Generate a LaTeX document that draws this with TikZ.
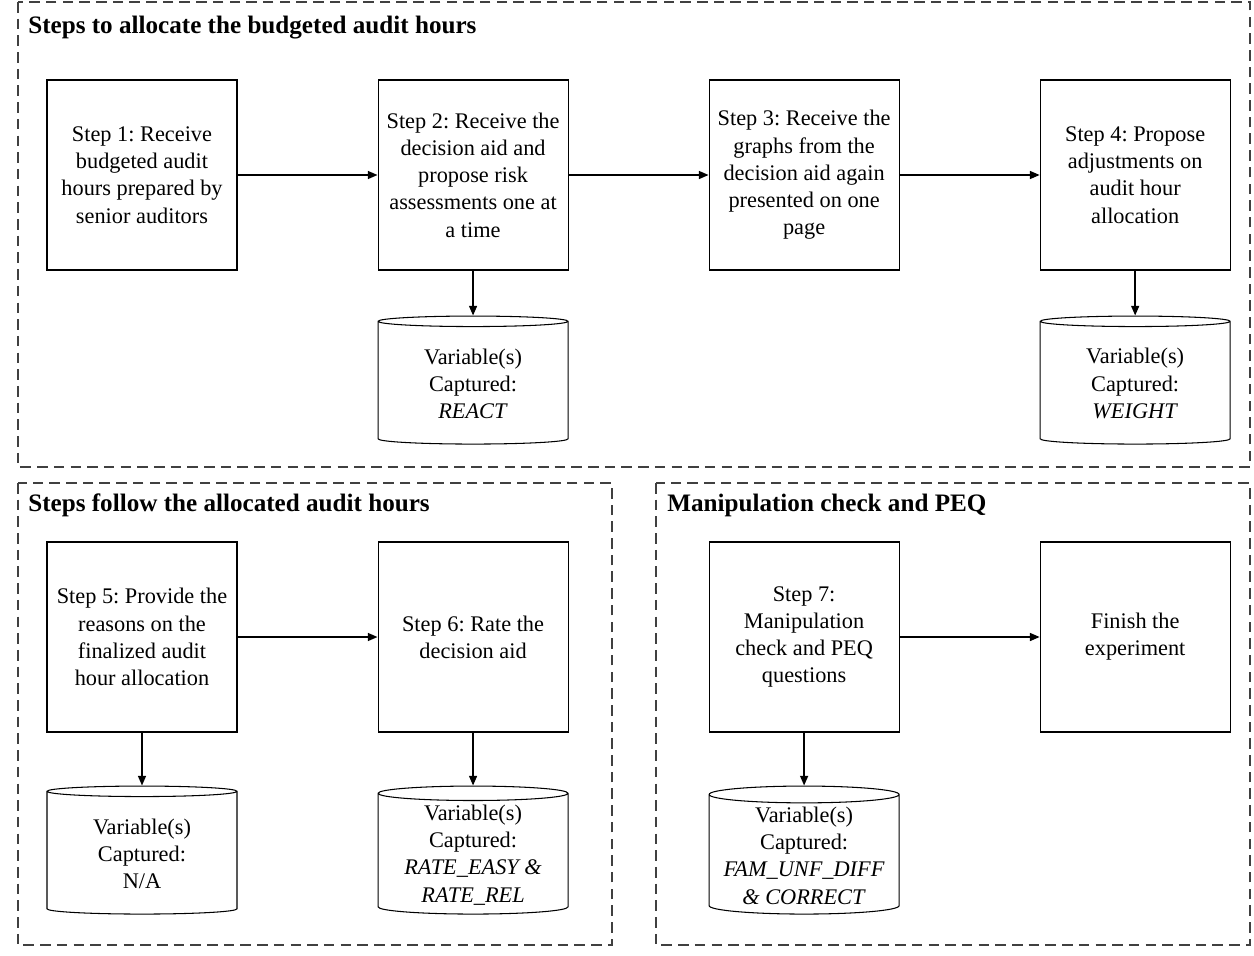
\documentclass[tikz,border=0pt]{standalone}
\usepackage{fontspec}
\setmainfont{Liberation Serif}
\frenchspacing
\usetikzlibrary{arrows.meta,positioning,shapes.geometric}
\tikzset{
  >={Triangle[length=5.5pt,width=4.5pt]},
  line join=round,
  stepbox/.style={draw, line width=0.6pt, minimum width=3.8cm, minimum height=3.8cm, align=center, inner sep=2pt, font=\fontsize{12.7}{15.5}\selectfont},
  store/.style={draw, line width=0.6pt, cylinder, shape border rotate=90, aspect=0.1, minimum width=3.8cm, minimum height=2.56cm, align=center, inner sep=2pt, font=\fontsize{12.7}{15.5}\selectfont},
  panel/.style={draw=black!75, dash pattern=on 6pt off 3.5pt, line width=0.6pt},
  paneltitle/.style={anchor=west, inner sep=0pt, font=\bfseries\fontsize{14.3}{16}\selectfont},
  arrow/.style={->, line width=0.9pt}
}
\begin{document}
\begin{tikzpicture}
  \useasboundingbox (0,0) rectangle (25.08,-19.1);

  % panels
  \draw[panel] (0.36,-0.04) rectangle (25.0,-9.34);
  \draw[panel] (0.36,-9.66) rectangle (12.24,-18.9);
  \draw[panel] (13.12,-9.66) rectangle (25.0,-18.9);
  \node[paneltitle] (alloc) at (0.56,-0.56) {Steps to allocate the budgeted audit hours};
  \node[paneltitle] (follow) at (0.56,-10.1) {Steps follow the allocated audit hours};
  \node[paneltitle] (manip) at (13.34,-10.1) {Manipulation check and PEQ};

  % first row
  \node[stepbox] (s1) at (2.84,-3.5) {Step 1: Receive\\budgeted audit\\hours prepared by\\senior auditors};
  \node[stepbox, right=2.8cm of s1] (s2) {Step 2: Receive the\\decision aid and\\propose risk\\assessments one at\\a time};
  \node[stepbox, right=2.8cm of s2] (s3) {Step 3: Receive the\\graphs from the\\decision aid again\\presented on one\\page};
  \node[stepbox, right=2.8cm of s3] (s4) {Step 4: Propose\\adjustments on\\audit hour\\allocation};
  \node[store, below=0.9cm of s2] (v2) {Variable(s)\\Captured:\\\textit{REACT}};
  \node[store, below=0.9cm of s4] (v4) {Variable(s)\\Captured:\\\textit{WEIGHT}};

  \draw[arrow] (s1) -- (s2);
  \draw[arrow] (s2) -- (s3);
  \draw[arrow] (s3) -- (s4);
  \draw[arrow] (s2) -- (v2);
  \draw[arrow] (s4) -- (v4);

  % second row
  \node[stepbox] (s5) at (2.84,-12.74) {Step 5: Provide the\\reasons on the\\finalized audit\\hour allocation};
  \node[stepbox, right=2.8cm of s5] (s6) {Step 6: Rate the\\decision aid};
  \node[stepbox, right=2.8cm of s6] (s7) {Step 7:\\Manipulation\\check and PEQ\\questions};
  \node[stepbox, right=2.8cm of s7] (fin) {Finish the\\experiment};
  \node[store, below=1.06cm of s5] (v5) {Variable(s)\\Captured:\\N/A};
  \node[store, below=1.06cm of s6] (v6) {Variable(s)\\Captured:\\\textit{RATE\_EASY \&}\\\textit{RATE\_REL}};
  \node[store, below=1.06cm of s7] (v7) {Variable(s)\\Captured:\\\textit{FAM\_UNF\_DIFF}\\\textit{\& CORRECT}};

  \draw[arrow] (s5) -- (s6);
  \draw[arrow] (s7) -- (fin);
  \draw[arrow] (s5) -- (v5);
  \draw[arrow] (s6) -- (v6);
  \draw[arrow] (s7) -- (v7);
\end{tikzpicture}
\end{document}
